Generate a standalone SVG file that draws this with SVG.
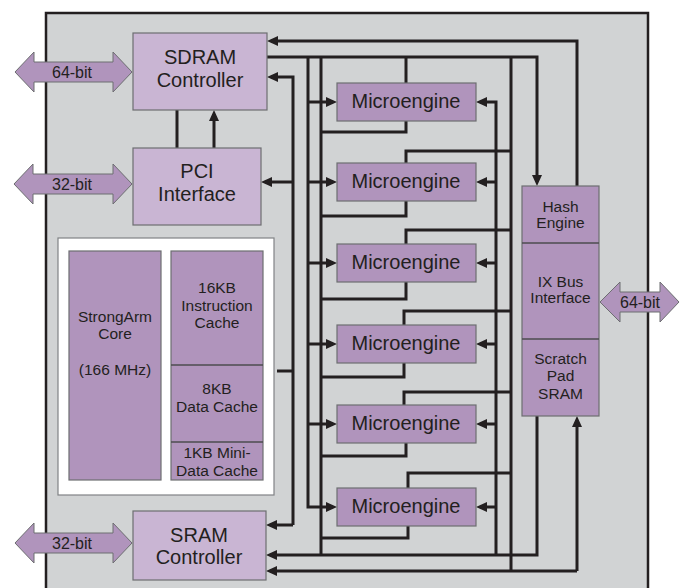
<svg xmlns="http://www.w3.org/2000/svg" width="682" height="588" viewBox="0 0 682 588">
<defs>
<style>
.chip{fill:#d1d3d4;stroke:#231f20;stroke-width:2.5}
.lt{fill:#c9b5d3;stroke:#6d6e71;stroke-width:1.2}
.dk{fill:#b094bc;stroke:#6d6e71;stroke-width:1.2}
.wh{fill:#ffffff;stroke:#808285;stroke-width:1.2}
.bus{fill:#b094bc;stroke:#6d6e71;stroke-width:1}
.ln{fill:none;stroke:#231f20;stroke-width:3}
.arr{fill:none;stroke:#231f20;stroke-width:3;marker-end:url(#ah)}
.div{stroke:#4d4d4f;stroke-width:1.5}
text{font-family:"Liberation Sans",Arial,sans-serif;fill:#231f20;text-anchor:middle}
.big{font-size:20px}
.sm{font-size:15.5px}
.bl{font-size:16px}
</style>
<marker id="ah" viewBox="0 0 11 10" refX="7" refY="5" markerWidth="11" markerHeight="10" markerUnits="userSpaceOnUse" orient="auto">
<path d="M0,0 L11,5 L0,10 z" fill="#231f20"/>
</marker>
</defs>

<rect class="chip" x="46" y="13" width="602" height="590"/>

<g id="connectors">
<!-- SDRAM <-> PCI -->
<path class="ln" d="M177,110 V148"/>
<path class="arr" d="M214,148 V114"/>
<!-- top loop from hash to SDRAM -->
<path class="arr" d="M577,186 V41 H271"/>
<!-- SDRAM output bus -->
<path class="arr" d="M267,57 H537 V182"/>
<!-- StrongARM bus -->
<path class="ln" d="M277,371 H293"/>
<path class="arr" d="M293,525 V77 H271"/>
<path class="arr" d="M293,182 H265"/>
<path class="arr" d="M293,525 H270"/>
<!-- left ME input bus x=308 -->
<path class="arr" d="M308,57 V507 H333"/>
<path class="arr" d="M308,102 H333"/>
<path class="arr" d="M308,182 H333"/>
<path class="arr" d="M308,263 H333"/>
<path class="arr" d="M308,344 H333"/>
<path class="arr" d="M308,424 H333"/>
<!-- x=321 collector -->
<path class="ln" d="M321,57 V555"/>
<!-- ME1 top -->
<path class="ln" d="M406,57 V83"/>
<!-- ME bottom loops -->
<path class="ln" d="M406,121 V132 H321"/>
<path class="ln" d="M406,201 V216 H321"/>
<path class="ln" d="M406,282 V299 H321"/>
<path class="ln" d="M404,363 V377 H321"/>
<path class="ln" d="M406,443 V456 H321"/>
<path class="ln" d="M408,526 V538 H321"/>
<!-- ME top loops -->
<path class="ln" d="M406,163 V151 H511"/>
<path class="ln" d="M406,244 V230 H511"/>
<path class="ln" d="M404,325 V311 H511"/>
<path class="ln" d="M404,405 V392 H511"/>
<path class="ln" d="M408,488 V473 H511"/>
<!-- x=511 vertical -->
<path class="ln" d="M511,57 V571"/>
<!-- right ME input bus x=496 -->
<path class="arr" d="M496,555 V102 H480"/>
<path class="arr" d="M496,182 H480"/>
<path class="arr" d="M496,263 H480"/>
<path class="arr" d="M496,344 H480"/>
<path class="arr" d="M496,424 H480"/>
<path class="arr" d="M496,507 H480"/>
<!-- scratch to SRAM -->
<path class="arr" d="M537,416 V555 H270"/>
<!-- SRAM to scratch -->
<path class="arr" d="M577,571 H270"/>
<path class="arr" d="M577,571 V420"/>
</g>

<g id="bus-sdram">
<polygon class="bus" points="15,72 34,52 34,62 113,62 113,52 132,72 113,92 113,82 34,82 34,92"/>
<text class="bl" x="72" y="78">64-bit</text>
</g>
<g id="bus-pci">
<polygon class="bus" points="14,184 33,164 33,174 113,174 113,164 132,184 113,204 113,194 33,194 33,204"/>
<text class="bl" x="72" y="190">32-bit</text>
</g>
<g id="bus-sram">
<polygon class="bus" points="15,543 34,523 34,533 113,533 113,523 132,543 113,563 113,553 34,553 34,563"/>
<text class="bl" x="72" y="549">32-bit</text>
</g>
<g id="bus-ix">
<polygon class="bus" points="600,302 620,282 620,292 660,292 660,282 679,302 660,322 660,312 620,312 620,322"/>
<text class="bl" x="640" y="308">64-bit</text>
</g>

<g id="sdram">
<rect class="lt" x="133" y="33" width="134" height="77"/>
<text class="big" x="200" y="64">SDRAM</text>
<text class="big" x="200" y="87">Controller</text>
</g>
<g id="pci">
<rect class="lt" x="133" y="148" width="128" height="77"/>
<text class="big" x="197" y="178">PCI</text>
<text class="big" x="197" y="201">Interface</text>
</g>
<g id="sram">
<rect class="lt" x="133" y="511" width="133" height="69"/>
<text class="big" x="199" y="542">SRAM</text>
<text class="big" x="199" y="564">Controller</text>
</g>

<g id="strongarm">
<rect class="wh" x="58" y="238" width="216" height="257"/>
<rect class="dk" x="69" y="251" width="92" height="229"/>
<text class="sm" x="115" y="322">StrongArm</text>
<text class="sm" x="115" y="339">Core</text>
<text class="sm" x="115" y="375">(166 MHz)</text>
<rect class="dk" x="171" y="251" width="92" height="229"/>
<line class="div" x1="171" y1="365" x2="263" y2="365"/>
<line class="div" x1="171" y1="442" x2="263" y2="442"/>
<text class="sm" x="217" y="293">16KB</text>
<text class="sm" x="217" y="311">Instruction</text>
<text class="sm" x="217" y="328">Cache</text>
<text class="sm" x="217" y="394">8KB</text>
<text class="sm" x="217" y="412">Data Cache</text>
<text class="sm" x="217" y="458">1KB Mini-</text>
<text class="sm" x="217" y="476">Data Cache</text>
</g>

<g id="me1"><rect class="dk" x="337" y="83" width="139" height="38"/><text class="big" x="406" y="108">Microengine</text></g>
<g id="me2"><rect class="dk" x="337" y="163" width="139" height="38"/><text class="big" x="406" y="188">Microengine</text></g>
<g id="me3"><rect class="dk" x="337" y="244" width="139" height="38"/><text class="big" x="406" y="269">Microengine</text></g>
<g id="me4"><rect class="dk" x="337" y="325" width="139" height="38"/><text class="big" x="406" y="350">Microengine</text></g>
<g id="me5"><rect class="dk" x="337" y="405" width="139" height="38"/><text class="big" x="406" y="430">Microengine</text></g>
<g id="me6"><rect class="dk" x="337" y="488" width="139" height="38"/><text class="big" x="406" y="513">Microengine</text></g>

<g id="ixblock">
<rect class="dk" x="522" y="186" width="77" height="230"/>
<line class="div" x1="522" y1="243" x2="599" y2="243"/>
<line class="div" x1="522" y1="339" x2="599" y2="339"/>
<text class="sm" x="560.5" y="212">Hash</text>
<text class="sm" x="560.5" y="228">Engine</text>
<text class="sm" x="560.5" y="287">IX Bus</text>
<text class="sm" x="560.5" y="303">Interface</text>
<text class="sm" x="560.5" y="364">Scratch</text>
<text class="sm" x="560.5" y="381">Pad</text>
<text class="sm" x="560.5" y="399">SRAM</text>
</g>
</svg>
